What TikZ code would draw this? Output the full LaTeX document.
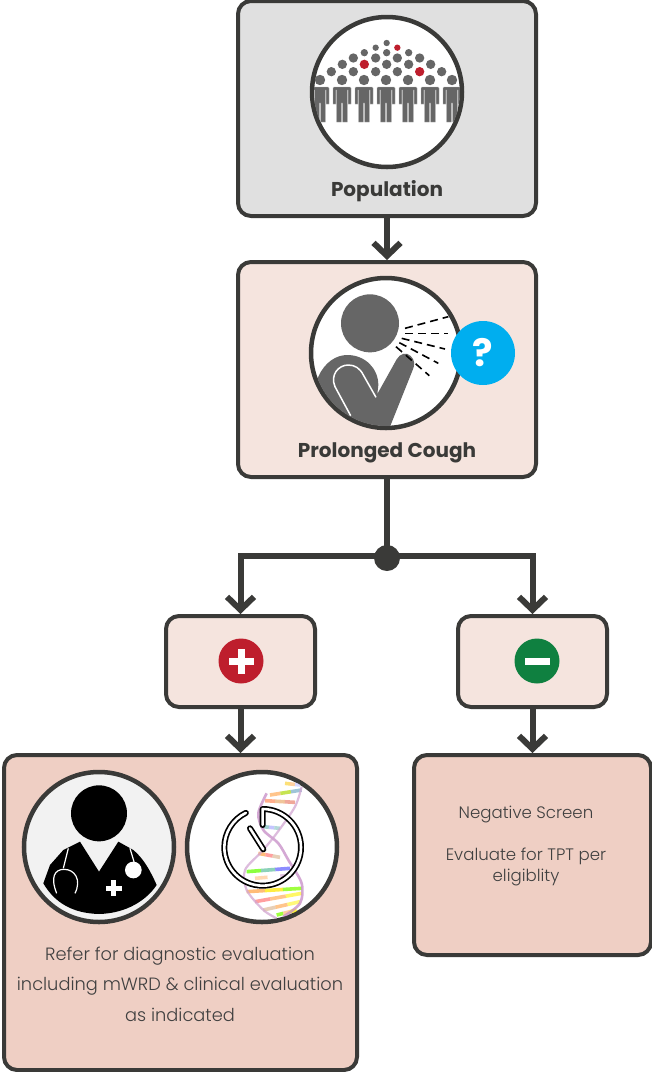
\documentclass[tikz,border=0pt]{standalone}
\usepackage{fontspec}
\setmainfont{Poppins}
\newfontfamily\lightfont{Poppins Light}
\usetikzlibrary{arrows.meta,calc}
\definecolor{ink}{HTML}{3A3A38}
\definecolor{palegray}{HTML}{E0E0E0}
\definecolor{palepink}{HTML}{F5E4DE}
\definecolor{deeppink}{HTML}{EFCFC4}
\definecolor{figgray}{HTML}{666666}
\definecolor{figred}{HTML}{BE1E2D}
\definecolor{figgreen}{HTML}{0F8040}
\definecolor{figblue}{HTML}{00AEEF}
\definecolor{bodytext}{HTML}{404040}
\tikzset{
  flowbox/.style={draw=ink,line width=4pt,rounded corners=13pt,outer sep=2pt,inner sep=0pt},
  iconring/.style={circle,draw=ink,fill=white,line width=4.5pt,minimum size=150pt,inner sep=0pt},
  flowline/.style={draw=ink,line width=6pt},
  flowarrow/.style={flowline,-{Straight Barb[length=13pt,width=27pt,line width=6pt]},shorten >=0pt},
  title/.style={font=\bfseries\fontsize{20}{24}\selectfont,text=ink,inner sep=0pt},
  bodylabel/.style={font=\lightfont\fontsize{17.8}{30.5}\selectfont,text=bodytext,align=center,inner sep=0pt},
  smalllabel/.style={font=\lightfont\fontsize{16.6}{21}\selectfont,text=bodytext,align=center,inner sep=0pt},
  signdisc/.style={circle,minimum size=45pt,inner sep=0pt},
}
\newcommand{\personfig}[1]{%
  \fill[figgray] (#1,80) circle (5.2);
  \fill[figgray,draw=gray!60,line width=.4pt]
    (#1-9,88) -- (#1-8,87) -- (#1+8,87) -- (#1+9,88) -- (#1+9,104) -- (#1+6.2,104) -- (#1+6.2,90)
    -- (#1+5.4,90) -- (#1+5.4,122) -- (#1+.7,122) -- (#1+.7,103) -- (#1-.7,103) -- (#1-.7,122)
    -- (#1-5.4,122) -- (#1-5.4,90) -- (#1-6.2,90) -- (#1-6.2,104) -- (#1-9,104) -- cycle;
}
\newcommand{\rungfig}[5]{%
  \draw[line width=3.6pt,#3] (#1) -- ($(#1)!.33!(#2)$);
  \draw[line width=3.6pt,#4] ($(#1)!.33!(#2)$) -- ($(#1)!.66!(#2)$);
  \draw[line width=3.6pt,#5] ($(#1)!.66!(#2)$) -- (#2);
}
\begin{document}
\begin{tikzpicture}[x=1pt,y=-1pt]
\useasboundingbox (0,0) rectangle (652,1072);
% boxes
\node[flowbox,fill=palegray,minimum width=298pt,minimum height=215pt] (pop) at (387,108.5) {};
\node[flowbox,fill=palepink,minimum width=298pt,minimum height=215pt] (cough) at (387,369.5) {};
\node[flowbox,fill=palepink,minimum width=149pt,minimum height=91pt] (plus) at (240.5,661.5) {};
\node[flowbox,fill=palepink,minimum width=149pt,minimum height=91pt] (minus) at (532.5,661.5) {};
\node[flowbox,fill=deeppink,minimum width=353pt,minimum height=315pt] (refer) at (180.5,912.5) {};
\node[flowbox,fill=deeppink,minimum width=237pt,minimum height=200pt] (neg) at (532.5,855) {};
% connectors
\node[circle,fill=ink,minimum size=26pt,inner sep=0pt] (junction) at (387,558) {};
\coordinate (split) at (387,556);
\draw[flowarrow] (pop.south) -- (cough.north);
\draw[flowline] (cough.south) -- (junction.center);
\draw[flowarrow] (split) -| (plus.north);
\draw[flowarrow] (split) -| (minus.north);
\draw[flowarrow] (plus.south) -- (plus.south |- refer.north);
\draw[flowarrow] (minus.south) -- (neg.north);
% population icon
\node[iconring] (popicon) at (387,92) {};
\begin{scope}
  \clip (387,92) circle (73);
  \foreach \px in {320,342,364,386,408,430,452} {\personfig{\px}}
  \begin{scope}[shift={(290,0)},scale=.33333]
    \foreach \dx/\dy in {124/215,157/193,190/174,190/215,257/174,290/193,257/215,322/215,322/174,356/193,389/174,422/193,455/215}
      {\fill[figgray] (\dx,\dy) circle (14);}
    \foreach \dx/\dy in {223/158,290/158,356/158} {\fill[figgray] (\dx,\dy) circle (11);}
    \foreach \dx/\dy in {257/143,290/129} {\fill[figgray] (\dx,\dy) circle (9.5);}
    \fill[figred] (322,143) circle (9.5);
    \fill[figred] (223,193) circle (14);
    \fill[figred] (389,215) circle (14);
  \end{scope}
\end{scope}
% cough icon
\node[iconring] (coughicon) at (386,353) {};
\begin{scope}
  \clip (386,353) circle (73);
  \begin{scope}[shift={(290,270)},scale=.33333]
    \fill[figgray] (240,160) circle (87);
    \fill[figgray] (60,400) -- (85,320) .. controls (105,275) and (140,255) .. (172,255)
      .. controls (225,255) and (265,295) .. (265,345) -- (262,372) -- (320,268)
      .. controls (330,250) and (350,245) .. (362,258) .. controls (375,270) and (375,285) .. (368,300)
      -- (300,470) -- (150,480) -- cycle;
    \draw[white,line width=1.5pt] (182,437) -- (135,350) .. controls (120,315) and (145,285) .. (175,285)
      .. controls (195,285) and (210,295) .. (220,315) -- (258,382);
    \begin{scope}[black,line width=1.6pt,dash pattern=on 8pt off 5pt]
      \draw (345,175) -- (475,140);
      \draw (345,190) -- (475,190);
      \draw (335,205) -- (465,237);
      \draw (328,218) -- (445,280);
      \draw (318,230) -- (418,317);
    \end{scope}
  \end{scope}
\end{scope}
\node[circle,fill=figblue,minimum size=64pt,inner sep=0pt,text=white,font=\bfseries\fontsize{38}{40}\selectfont] (query) at (483,353) {?};
% titles
\node[title] (poplabel) at (387,191) {Population};
\node[title] (coughlabel) at (387,453) {Prolonged Cough};
% signs
\node[signdisc,fill=figred] (plussign) at (241,661) {};
\fill[white] (228.5,657.5) rectangle (253.5,664.5);
\fill[white] (237.5,648.5) rectangle (244.5,673.5);
\node[signdisc,fill=figgreen] (minussign) at (537,661) {};
\fill[white] (525,657.5) rectangle (550,664.5);
% doctor icon
\node[iconring,fill=black!5] (doctor) at (99,847) {};
\begin{scope}
  \clip (99,847) circle (73);
  \begin{scope}[shift={(0,760)},scale=.33333]
    \fill[black] (297,160) circle (84);
    \fill[black] (240,245) -- (297,335) -- (355,245) -- (400,270) .. controls (430,295) and (450,330) .. (470,375)
      .. controls (440,420) and (380,460) .. (297,462) .. controls (220,460) and (165,430) .. (130,370)
      -- (150,315) -- (190,270) -- cycle;
    \draw[white,line width=1.2pt] (205,265) -- (190,325);
    \draw[white,line width=1.2pt] (170,400) .. controls (150,350) and (165,328) .. (192,328)
      .. controls (225,328) and (245,360) .. (225,400);
    \draw[white,line width=1.2pt] (390,265) -- (405,315);
    \fill[white] (400,330) circle (25);
    \fill[white] (317,377) rectangle (365,393);
    \fill[white] (333,361) rectangle (349,409);
  \end{scope}
\end{scope}
% clock and DNA icon
\node[iconring] (dnaclock) at (262,847) {};
\begin{scope}
  \clip (262,847) circle (73);
  \begin{scope}[shift={(0,760)},scale=.33333,opacity=.75]
    \rungfig{855,70}{900,75}{yellow!60!orange!70}{orange!50}{blue!20}
    \rungfig{810,105}{905,90}{orange!60}{yellow!70!green}{green!40!blue!50}
    \rungfig{795,122}{885,127}{red!40!orange!60}{orange!50!brown!60}{red!50!brown!60}
    \rungfig{790,200}{840,205}{green!50!blue!50}{blue!30}{teal!40}
    \rungfig{775,280}{840,292}{orange!70}{red!50}{brown!50}
    \rungfig{740,335}{870,325}{green!60!yellow}{blue!40!green!60}{blue!60}
    \rungfig{765,355}{880,345}{orange!40}{white}{violet!30}
    \rungfig{740,395}{905,385}{orange!70}{yellow!90!orange}{green!50!yellow}
    \rungfig{765,425}{905,400}{red!50}{orange!60}{yellow!80}
    \rungfig{790,450}{900,425}{brown!50}{orange!60}{yellow!70}
    \rungfig{830,465}{890,450}{green!50!yellow}{orange!50}{yellow}
    \draw[violet!45,line width=2.6pt] plot[smooth] coordinates {(800,100) (775,160) (790,210) (835,250) (865,300) (905,370) (900,430) (850,470)};
    \draw[violet!35,line width=2.2pt] plot[smooth] coordinates {(905,80) (885,140) (830,220) (785,275) (735,330) (740,390) (790,450) (830,475)};
  \end{scope}
\end{scope}
\begin{scope}[shift={(0,760)},scale=.33333]
  \foreach \lw/\lc in {6/black,2.6/white} {
    \draw[\lc,line width=\lw pt,line cap=round,line join=round]
      (788,195) -- (788,147) arc[start angle=-90,end angle=244,radius=115];
    \draw[\lc,line width=\lw pt,line cap=round] (750,205) -- (790,268);
  }
\end{scope}
% body text
\node[bodylabel] (refertext) at (180,984) {Refer for diagnostic evaluation\\including mWRD \& clinical evaluation\\as indicated};
\node[smalllabel] (negtop) at (526,814.5) {Negative Screen};
\node[smalllabel] (negbottom) at (526,866.5) {Evaluate for TPT per\\eligiblity};
\end{tikzpicture}
\end{document}
